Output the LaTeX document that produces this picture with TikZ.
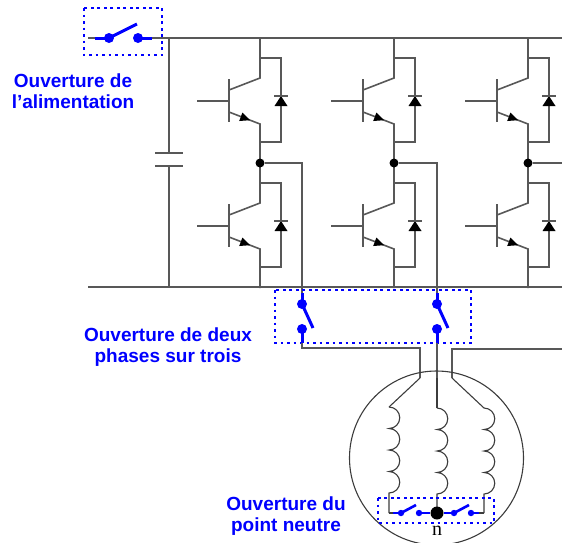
\documentclass[tikz,border=0pt]{standalone}
\usepackage{fontspec}
\setmainfont{Liberation Sans}
\newfontfamily\neutralfont{Liberation Serif}
\usepackage{tikz}
\usetikzlibrary{positioning,calc}

\definecolor{wiregray}{RGB}{88,88,88}
\definecolor{motorgray}{RGB}{60,60,60}

\begin{document}
\begin{tikzpicture}[x=1pt, y=-1pt,
    wire/.style={draw=wiregray, line width=1.6pt},
    motor/.style={draw=motorgray, line width=1.1pt},
    swblue/.style={draw=blue, line width=3pt},
    openbox/.style={draw=blue, line width=2.6pt, dash pattern=on 2.6pt off 3.9pt},
    openlabel/.style={text=blue, font=\fontsize{19}{21}\selectfont\bfseries, align=center},
    junction/.style={circle, fill=black, inner sep=0pt, minimum size=9pt}]
    \useasboundingbox (0,0) rectangle (562,542);

    % DC bus rails
    \coordinate (dcP) at (88,38);
    \coordinate (dcN) at (88,287);
    \coordinate (railP) at (562,38);
    \coordinate (railN) at (562,287);
    \draw[wire] (dcN) -- (railN);

    % supply switch on the + rail
    \coordinate (supA) at (95,38);
    \coordinate (supB) at (109,38);
    \coordinate (supC) at (138,38);
    \coordinate (supD) at (152,38);
    \draw[wire] (dcP) -- (supA) (supD) -- (railP);
    \draw[swblue] (supA) -- (supB) (supC) -- (supD);
    \draw[swblue] (supB) -- ++(28,-14);
    \fill[blue] (supB) circle[radius=5] (supC) circle[radius=5];
    \draw[openbox] (84,8) rectangle (162,55);
    \node[openlabel] (supLabel) at (73,91) {Ouverture de\\l’alimentation};

    % DC link capacitor
    \draw[wire] (169,38) -- (169,153) (169,166) -- (169,287);
    \draw[wire] (155,153) -- (183,153) (155,166) -- (183,166);

    % three inverter legs (IGBT + diode, high and low)
    \foreach \leg/\X in {a/260, b/394, c/528} {
      \foreach \T in {38, 163} {
        \begin{scope}[shift={(\X,\T)}]
          \draw[wire] (0,0) -- (0,40) -- (-31,52);
          \draw[wire] (-31,41) -- (-31,84);
          \draw[wire] (-63,63) -- (-31,63);
          \draw[wire] (-31,74) -- (0,86) -- (0,125);
          \fill[black] (-10,82.2) -- (-20.8,83) -- (-17.6,74.6) -- cycle;
          \draw[wire] (0,20) -- (21,20) -- (21,104) -- (0,104);
          \fill[black] (21,58) -- (14.5,68) -- (27.5,68) -- cycle;
          \draw[wire] (14,58) -- (28,58);
        \end{scope}
      }
      \node[junction] (mid\leg) at (\X,163) {};
    }

    % phase outputs
    \draw[wire] (mida) -- (302,163) -- (302,293);
    \draw[wire] (midb) -- (437,163) -- (437,293);
    \draw[wire] (midc) -- (562,163);

    % two phase switches
    \foreach \px in {302, 437} {
      \draw[swblue] (\px,293) -- (\px,304) (\px,329) -- (\px,343);
      \draw[swblue] (\px,304) -- ++(11,24);
      \fill[blue] (\px,304) circle[radius=5] (\px,329) circle[radius=5];
    }
    \draw[openbox] (275,290) rectangle (471,343);
    \node[openlabel] (phaseLabel) at (168,347) {Ouverture de deux\\phases sur trois};

    % motor feeders
    \draw[wire] (302,343) -- (302,348) -- (420,348) -- (420,378);
    \draw[wire] (437,343) -- (437,378);
    \draw[wire] (562,349) -- (452,349) -- (452,378);
    \draw[motor] (420,378) -- (389,407);
    \draw[motor] (437,378) -- (437,408);
    \draw[motor] (452,378) -- (484,408);

    % motor and windings
    \draw[motor] (436.5,458) circle[radius=87];
    \foreach \cx/\cy in {389/407, 437/408, 484/408} {
      \draw[motor] (\cx,\cy) \foreach \k in {1,...,4} {arc[start angle=-90, end angle=90, radius=10.75]}
        -- (\cx,513);
    }

    % neutral point switches
    \node[junction, minimum size=13pt] (neutral) at (437,513) {};
    \draw[motor] (389,513) -- (393,513) (479,513) -- (484,513);
    \draw[swblue, line width=2.6pt] (393,513) -- (401,513) (419,513) -- (neutral) -- (454,513) (471,513) -- (479,513);
    \draw[swblue, line width=2.6pt] (401,513) -- (416,505) (454,513) -- (469,505);
    \fill[blue] (401,513) circle[radius=3.2] (419,513) circle[radius=3.2]
                (454,513) circle[radius=3.2] (471,513) circle[radius=3.2];
    \draw[openbox, line width=2.3pt] (378,498) rectangle (494,523);
    \node[font=\neutralfont\fontsize{20}{20}\selectfont] (nLabel) at (437,531) {n};
    \node[openlabel] (neutralLabel) at (286,516) {Ouverture du\\point neutre};
\end{tikzpicture}
\end{document}
